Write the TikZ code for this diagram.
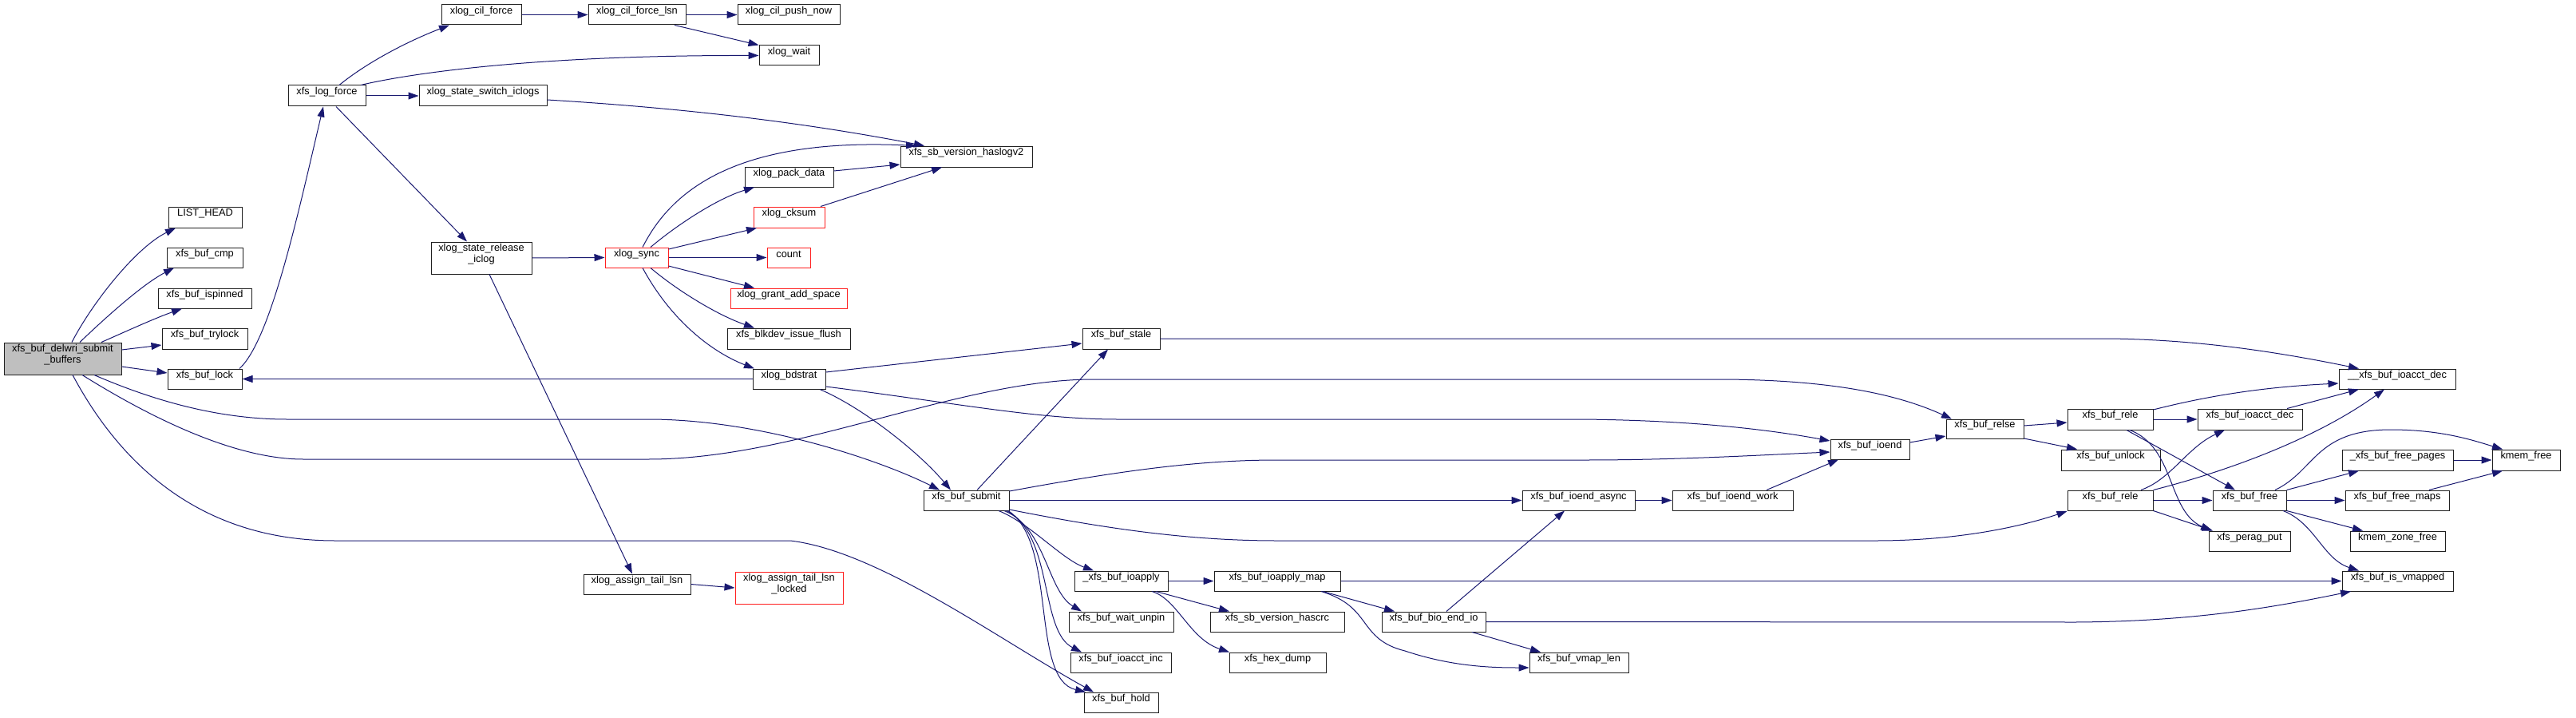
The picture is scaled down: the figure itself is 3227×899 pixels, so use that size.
\documentclass[tikz,border=0pt]{standalone}
\usepackage{fontspec}
\setmainfont{Liberation Sans}
\usetikzlibrary{arrows.meta,fit}
\definecolor{edgeblue}{HTML}{191970}
\definecolor{nodered}{HTML}{FF2020}
\definecolor{rootgray}{HTML}{BFBFBF}
\definecolor{nodeline}{HTML}{202020}
\tikzset{
  nbox/.style={draw=nodeline, line width=0.5pt, inner sep=0pt, align=center,
    font=\fontsize{6.4pt}{7.2pt}\selectfont},
  rbox/.style={nbox, draw=nodered},
  gbox/.style={nbox, fill=rootgray},
  e/.style={draw=edgeblue, line width=0.5pt, -{Triangle[length=6.5pt,width=4.5pt]}},
}
\begin{document}
\begin{tikzpicture}[x=0.5pt,y=-0.5pt]
\useasboundingbox (0,0) rectangle (3227,899);
% nodes
\node[gbox, fit={(5,429) (152,469)}] (root) {xfs\_buf\_delwri\_submit\\\_buffers};
\node[nbox, fit={(211,259) (303,285)}] (listhead) {LIST\_HEAD};
\node[nbox, fit={(209,310) (304,335)}] (cmp) {xfs\_buf\_cmp};
\node[nbox, fit={(198,361) (315,386)}] (ispinned) {xfs\_buf\_ispinned};
\node[nbox, fit={(203,411) (310,437)}] (trylock) {xfs\_buf\_trylock};
\node[nbox, fit={(210,462) (303,487)}] (lock) {xfs\_buf\_lock};
\node[nbox, fit={(361,107) (458,133)}] (logforce) {xfs\_log\_force};
\node[nbox, fit={(553,6) (653,31)}] (cilforce) {xlog\_cil\_force};
\node[nbox, fit={(737,6) (859,31)}] (cillsn) {xlog\_cil\_force\_lsn};
\node[nbox, fit={(924,6) (1052,31)}] (cilpush) {xlog\_cil\_push\_now};
\node[nbox, fit={(951,57) (1026,82)}] (wait) {xlog\_wait};
\node[nbox, fit={(525,107) (685,133)}] (switchic) {xlog\_state\_switch\_iclogs};
\node[nbox, fit={(1128,183) (1293,209)}] (haslog) {xfs\_sb\_version\_haslogv2};
\node[nbox, fit={(933,209) (1044,234)}] (pack) {xlog\_pack\_data};
\node[rbox, fit={(944,259) (1033,285)}] (cksum) {xlog\_cksum};
\node[nbox, fit={(540,303) (666,343)}] (relic) {xlog\_state\_release\\\_iclog};
\node[rbox, fit={(758,310) (837,335)}] (sync) {xlog\_sync};
\node[rbox, fit={(961,310) (1015,335)}] (count) {count};
\node[rbox, fit={(915,361) (1061,386)}] (grant) {xlog\_grant\_add\_space};
\node[nbox, fit={(911,411) (1065,437)}] (blkdev) {xfs\_blkdev\_issue\_flush};
\node[nbox, fit={(943,462) (1034,487)}] (bdstrat) {xlog\_bdstrat};
\node[nbox, fit={(731,719) (865,744)}] (atail) {xlog\_assign\_tail\_lsn};
\node[rbox, fit={(921,716) (1056,756)}] (atlocked) {xlog\_assign\_tail\_lsn\\\_locked};
\node[nbox, fit={(1356,411) (1453,437)}] (stale) {xfs\_buf\_stale};
\node[nbox, fit={(1157,614) (1264,639)}] (submit) {xfs\_buf\_submit};
\node[nbox, fit={(1346,715) (1463,740)}] (ioapply) {\_xfs\_buf\_ioapply};
\node[nbox, fit={(1339,766) (1470,791)}] (unpin) {xfs\_buf\_wait\_unpin};
\node[nbox, fit={(1341,817) (1467,842)}] (acinc) {xfs\_buf\_ioacct\_inc};
\node[nbox, fit={(1358,867) (1451,892)}] (hold) {xfs\_buf\_hold};
\node[nbox, fit={(1521,715) (1679,740)}] (imap) {xfs\_buf\_ioapply\_map};
\node[nbox, fit={(1516,766) (1684,791)}] (hascrc) {xfs\_sb\_version\_hascrc};
\node[nbox, fit={(1540,817) (1661,842)}] (hexdump) {xfs\_hex\_dump};
\node[nbox, fit={(1907,614) (2048,639)}] (async) {xfs\_buf\_ioend\_async};
\node[nbox, fit={(2095,614) (2246,639)}] (work) {xfs\_buf\_ioend\_work};
\node[nbox, fit={(1731,766) (1861,791)}] (bioend) {xfs\_buf\_bio\_end\_io};
\node[nbox, fit={(1916,817) (2040,842)}] (vmaplen) {xfs\_buf\_vmap\_len};
\node[nbox, fit={(2293,550) (2392,575)}] (ioend) {xfs\_buf\_ioend};
\node[nbox, fit={(2438,525) (2535,549)}] (relse) {xfs\_buf\_relse};
\node[nbox, fit={(2590,512) (2697,538)}] (releA) {xfs\_buf\_rele};
\node[nbox, fit={(2582,563) (2706,589)}] (unlock) {xfs\_buf\_unlock};
\node[nbox, fit={(2590,614) (2697,639)}] (releB) {xfs\_buf\_rele};
\node[nbox, fit={(2930,462) (3076,487)}] (acdec2) {\_\_xfs\_buf\_ioacct\_dec};
\node[nbox, fit={(2753,512) (2884,538)}] (acdec) {xfs\_buf\_ioacct\_dec};
\node[nbox, fit={(2934,563) (3073,589)}] (freepages) {\_xfs\_buf\_free\_pages};
\node[nbox, fit={(3122,563) (3207,589)}] (kfree) {kmem\_free};
\node[nbox, fit={(2772,614) (2864,639)}] (bfree) {xfs\_buf\_free};
\node[nbox, fit={(2938,614) (3068,639)}] (freemaps) {xfs\_buf\_free\_maps};
\node[nbox, fit={(2767,665) (2869,690)}] (perag) {xfs\_perag\_put};
\node[nbox, fit={(2944,665) (3063,690)}] (zfree) {kmem\_zone\_free};
\node[nbox, fit={(2934,715) (3073,740)}] (vmapped) {xfs\_buf\_is\_vmapped};
% edges
\draw[e] (root.north -| 90,0) .. controls (115,380) and (170,310) .. (listhead.south west -| 220,0);
\draw[e] (root.north -| 100,0) .. controls (135,395) and (180,355) .. (cmp.south -| 218,0);
\draw[e] (root.north -| 127,0) .. controls (160,414) and (195,398) .. (ispinned.south -| 228,0);
\draw[e] (root.east |- 0,438) -- (trylock.west |- 0,432);
\draw[e] (root.east |- 0,459) -- (lock.west |- 0,467);
\draw[e] (lock.north -| 300,0) .. controls (340,425) and (375,260) .. (logforce.south -| 405,0);
\draw[e] (logforce.north -| 425,0) .. controls (460,78) and (510,52) .. (cilforce.south west -| 563,0);
\draw[e] (logforce.north -| 452,0) .. controls (500,95) and (650,69) .. (wait.west);
\draw[e] (logforce.east) -- (switchic.west);
\draw[e] (logforce.south -| 421,0) -- (relic.north -| 585,0);
\draw[e] (cilforce.east) -- (cillsn.west);
\draw[e] (cillsn.east) -- (cilpush.west);
\draw[e] (cillsn.south -| 845,0) -- (wait.north west);
\draw[e] (switchic.east |- 0,125) .. controls (850,135) and (1000,152) .. (haslog.north west -| 1158,0);
\draw[e] (sync.north -| 805,0) .. controls (840,240) and (920,172) .. (haslog.north west -| 1148,0);
\draw[e] (sync.north -| 815,0) .. controls (850,280) and (900,248) .. (pack.south west -| 945,0);
\draw[e] (sync.east |- 0,312) -- (cksum.south west -| 948,0);
\draw[e] (sync.east) -- (count.west);
\draw[e] (sync.east |- 0,333) -- (grant.north west -| 945,0);
\draw[e] (sync.south -| 815,0) .. controls (850,365) and (900,395) .. (blkdev.north -| 945,0);
\draw[e] (sync.south -| 805,0) .. controls (840,400) and (890,440) .. (bdstrat.north west -| 945,0);
\draw[e] (pack.east |- 0,214) -- (haslog.west |- 0,206);
\draw[e] (cksum.north -| 1028,0) -- (haslog.south -| 1180,0);
\draw[e] (relic.east) -- (sync.west);
\draw[e] (relic.south -| 613,0) -- (atail.north -| 792,0);
\draw[e] (atail.east) -- (atlocked.west);
\draw[e] (bdstrat.west) -- (lock.east);
\draw[e] (bdstrat.east |- 0,466) -- (stale.west |- 0,430);
\draw[e] (bdstrat.east |- 0,484) .. controls (1200,505) and (1300,525) .. (1400,525) -- (1980,525) .. controls (2100,526) and (2200,535) .. (ioend.west |- 0,552);
\draw[e] (bdstrat.south -| 1027,0) .. controls (1080,510) and (1150,565) .. (submit.north -| 1191,0);
\draw[e] (root.south -| 118,0) .. controls (200,505) and (280,525) .. (360,525) -- (812,525) .. controls (950,525) and (1100,575) .. (submit.north -| 1177,0);
\draw[e] (root.south -| 103,0) .. controls (200,530) and (300,575) .. (380,575) -- (812,575) .. controls (1000,575) and (1200,475) .. (1370,475) -- (2160,475) .. controls (2300,476) and (2380,495) .. (relse.north -| 2445,0);
\draw[e] (root.south -| 91,0) .. controls (150,580) and (250,677) .. (420,677) -- (990,677) .. controls (1100,690) and (1250,800) .. (hold.north -| 1370,0);
\draw[e] (submit.north -| 1224,0) -- (stale.south -| 1388,0);
\draw[e] (submit.east |- 0,615) .. controls (1400,590) and (1500,576) .. (1600,576) -- (1985,576) .. controls (2100,576) and (2200,570) .. (ioend.west |- 0,566);
\draw[e] (submit.east) -- (async.west);
\draw[e] (submit.east |- 0,638) .. controls (1400,665) and (1500,677) .. (1600,677) -- (2350,677) .. controls (2450,677) and (2530,660) .. (releB.west |- 0,640);
\draw[e] (submit.south -| 1251,0) .. controls (1290,655) and (1330,700) .. (ioapply.north -| 1370,0);
\draw[e] (submit.south -| 1258,0) .. controls (1310,660) and (1312,740) .. (unpin.north -| 1355,0);
\draw[e] (submit.south -| 1261,0) .. controls (1320,670) and (1302,790) .. (acinc.north -| 1355,0);
\draw[e] (submit.south -| 1263,0) .. controls (1325,680) and (1290,850) .. (hold.north -| 1360,0);
\draw[e] (stale.east) -- (2640,424) .. controls (2750,425) and (2850,440) .. (acdec2.north -| 2955,0);
\draw[e] (releA.east |- 0,513) .. controls (2780,492) and (2850,484) .. (acdec2.west |- 0,480);
\draw[e] (releA.east) -- (acdec.west);
\draw[e] (releA.south -| 2664,0) -- (bfree.north -| 2800,0);
\draw[e] (releA.south -| 2668,0) .. controls (2725,560) and (2715,640) .. (perag.north -| 2770,0);
\draw[e] (releB.north -| 2682,0) .. controls (2720,600) and (2740,560) .. (acdec.south -| 2787,0);
\draw[e] (releB.north east) .. controls (2790,590) and (2900,550) .. (acdec2.south -| 2987,0);
\draw[e] (releB.east) -- (bfree.west);
\draw[e] (releB.south east) -- (perag.north -| 2772,0);
\draw[e] (relse.east |- 0,533) -- (releA.west |- 0,529);
\draw[e] (relse.east |- 0,549) -- (unlock.north west -| 2602,0);
\draw[e] (ioend.east |- 0,554) -- (relse.west |- 0,546);
\draw[e] (work.north -| 2213,0) -- (ioend.south -| 2303,0);
\draw[e] (async.east) -- (work.west);
\draw[e] (acdec.north -| 2865,0) -- (acdec2.south -| 2955,0);
\draw[e] (bfree.north -| 2850,0) .. controls (2900,590) and (2900,538) .. (2995,538) .. controls (3060,538) and (3100,552) .. (kfree.north -| 3135,0);
\draw[e] (bfree.north east) -- (freepages.south -| 2955,0);
\draw[e] (bfree.east) -- (freemaps.west);
\draw[e] (bfree.south east) -- (zfree.north -| 2960,0);
\draw[e] (bfree.south -| 2860,0) .. controls (2900,655) and (2910,700) .. (vmapped.north -| 2955,0);
\draw[e] (freepages.east) -- (kfree.west);
\draw[e] (freemaps.north -| 3043,0) -- (kfree.south -| 3135,0);
\draw[e] (ioapply.east) -- (imap.west);
\draw[e] (ioapply.south -| 1448,0) -- (hascrc.north -| 1540,0);
\draw[e] (ioapply.south -| 1443,0) .. controls (1475,750) and (1490,800) .. (hexdump.north -| 1540,0);
\draw[e] (imap.east) -- (vmapped.west);
\draw[e] (imap.south -| 1657,0) -- (bioend.north -| 1747,0);
\draw[e] (imap.south -| 1655,0) .. controls (1720,760) and (1700,800) .. (1760,815) .. controls (1820,835) and (1870,836) .. (vmaplen.west |- 0,836);
\draw[e] (bioend.north -| 1812,0) -- (async.south -| 1960,0);
\draw[e] (bioend.south -| 1844,0) -- (vmaplen.north -| 1930,0);
\draw[e] (bioend.east) -- (2600,779) .. controls (2750,778) and (2850,760) .. (vmapped.south -| 2945,0);
\end{tikzpicture}
\end{document}
